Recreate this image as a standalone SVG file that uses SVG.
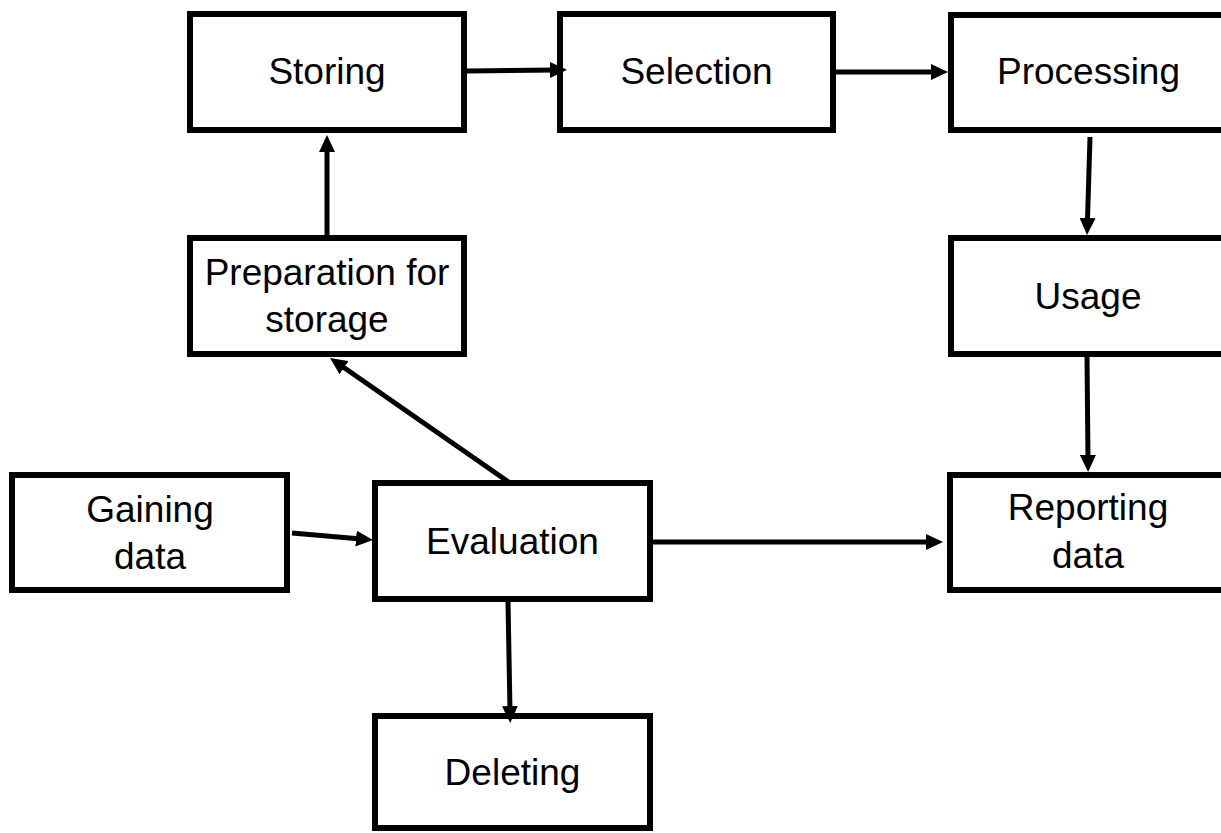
<svg xmlns="http://www.w3.org/2000/svg" width="1221" height="833" viewBox="0 0 1221 833">
<style>
.box{fill:#fff;stroke:#000;stroke-width:6}
.lbl{font-family:"Liberation Sans",Arial,sans-serif;font-size:37px;fill:#000;text-anchor:middle}
.con{stroke:#000;stroke-width:5;fill:none;marker-end:url(#ah)}
</style>
<defs>
<marker id="ah" markerUnits="userSpaceOnUse" markerWidth="17" markerHeight="16" refX="5" refY="8" orient="auto" viewBox="0 0 17 16">
<path d="M0,0 L17,8 L0,16 z" fill="#000"/>
</marker>
</defs>
<rect width="1221" height="833" fill="#fff"/>
<g id="storing"><rect class="box" x="190" y="14" width="274" height="116"/><text class="lbl" x="327" y="84">Storing</text></g>
<g id="selection"><rect class="box" x="560" y="14" width="273" height="116"/><text class="lbl" x="696.5" y="84">Selection</text></g>
<g id="processing"><rect class="box" x="951" y="15" width="275" height="115"/><text class="lbl" x="1088.5" y="84">Processing</text></g>
<g id="preparation"><rect class="box" x="190" y="238" width="274" height="116"/><text class="lbl" x="327" y="285">Preparation for</text><text class="lbl" x="327" y="332">storage</text></g>
<g id="usage"><rect class="box" x="951" y="238" width="275" height="116"/><text class="lbl" x="1088" y="309">Usage</text></g>
<g id="gaining"><rect class="box" x="12" y="475" width="275" height="115"/><text class="lbl" x="150" y="522">Gaining</text><text class="lbl" x="150" y="569">data</text></g>
<g id="evaluation"><rect class="box" x="375" y="483" width="275" height="116"/><text class="lbl" x="512.5" y="554">Evaluation</text></g>
<g id="reporting"><rect class="box" x="950" y="475" width="276" height="115"/><text class="lbl" x="1088" y="520">Reporting</text><text class="lbl" x="1088" y="568">data</text></g>
<g id="deleting"><rect class="box" x="375" y="716" width="275" height="112"/><text class="lbl" x="512.5" y="785">Deleting</text></g>
<g id="connectors">
<path class="con" d="M467,71 L555,70"/>
<path class="con" d="M836,72 L936,72"/>
<path class="con" d="M327,235 L327,147"/>
<path class="con" d="M1090,137 L1087.4,223"/>
<path class="con" d="M1087,357 L1088,460"/>
<path class="con" d="M292,533 L361,539"/>
<path class="con" d="M510,483 L339.9,364.8"/>
<path class="con" d="M653,542 L931,542"/>
<path class="con" d="M508,602 L510,711"/>
</g>
</svg>
